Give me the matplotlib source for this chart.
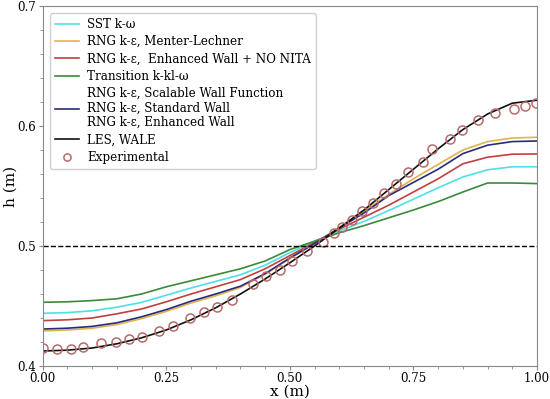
import numpy as np
import matplotlib
matplotlib.use("Agg")
import matplotlib.pyplot as plt
from matplotlib.ticker import MultipleLocator

plt.rcParams['font.family'] = ['DejaVu Serif']

# x positions of the simulated profiles
x_sim = [0.0, 0.05, 0.1, 0.15, 0.2, 0.25, 0.3, 0.35, 0.4, 0.45, 0.5,
         0.55, 0.6, 0.65, 0.7, 0.75, 0.8, 0.85, 0.9, 0.95, 1.0]

h_sst = [0.4439, 0.4445, 0.4460, 0.4490, 0.4530, 0.4590, 0.4650, 0.4705, 0.4760, 0.4840, 0.4945,
         0.5040, 0.5125, 0.5205, 0.5295, 0.5390, 0.5485, 0.5575, 0.5635, 0.5660, 0.5660]
h_menter = [0.4292, 0.4300, 0.4315, 0.4345, 0.4395, 0.4455, 0.4525, 0.4585, 0.4655, 0.4765, 0.4895,
            0.5020, 0.5155, 0.5290, 0.5430, 0.5560, 0.5680, 0.5800, 0.5870, 0.5900, 0.5906]
h_nonita = [0.4378, 0.4385, 0.4400, 0.4435, 0.4475, 0.4535, 0.4600, 0.4660, 0.4720, 0.4810, 0.4920,
            0.5030, 0.5140, 0.5240, 0.5340, 0.5450, 0.5560, 0.5685, 0.5740, 0.5765, 0.5767]
h_trans = [0.4531, 0.4535, 0.4545, 0.4560, 0.4600, 0.4660, 0.4710, 0.4760, 0.4810, 0.4875, 0.4970,
           0.5040, 0.5110, 0.5170, 0.5235, 0.5300, 0.5370, 0.5450, 0.5525, 0.5525, 0.5520]
h_wall = [0.4308, 0.4315, 0.4330, 0.4360, 0.4410, 0.4470, 0.4540, 0.4600, 0.4665, 0.4770, 0.4900,
          0.5020, 0.5150, 0.5275, 0.5420, 0.5530, 0.5640, 0.5770, 0.5840, 0.5870, 0.5875]
h_les = [0.4125, 0.4132, 0.4150, 0.4185, 0.4235, 0.4300, 0.4385, 0.4485, 0.4600, 0.4725, 0.4860,
         0.5000, 0.5150, 0.5300, 0.5470, 0.5640, 0.5810, 0.5970, 0.6100, 0.6190, 0.6215]

# experimental data
x_exp = [0.0, 0.028, 0.057, 0.082, 0.118, 0.148, 0.175, 0.200, 0.235, 0.263, 0.299,
         0.327, 0.353, 0.382, 0.425, 0.452, 0.480, 0.504, 0.534, 0.568, 0.590, 0.605,
         0.625, 0.645, 0.668, 0.690, 0.714, 0.740, 0.769, 0.788, 0.824, 0.848, 0.881,
         0.915, 0.954, 0.976, 0.998]
h_exp = [0.4148, 0.4142, 0.4142, 0.4158, 0.4192, 0.4203, 0.4225, 0.4244, 0.4292, 0.4333, 0.4398,
         0.4448, 0.4494, 0.4550, 0.4680, 0.4750, 0.4800, 0.4875, 0.4960, 0.5036, 0.5106, 0.5156,
         0.5220, 0.5290, 0.5360, 0.5440, 0.5514, 0.5620, 0.5700, 0.5808, 0.5890, 0.5970, 0.6050,
         0.6110, 0.6144, 0.6170, 0.6190]

fig = plt.figure(figsize=(5.5, 3.99), dpi=100)
ax = fig.add_axes([0.0776, 0.0827, 0.8988, 0.9023])

lw = 1.2
ax.plot(x_sim, h_sst, color='#4ee0e6', lw=lw, label='SST k-ω')
ax.plot(x_sim, h_menter, color='#e0b448', lw=lw, label='RNG k-ε, Menter-Lechner')
ax.plot(x_sim, h_nonita, color='#c0403e', lw=lw, label='RNG k-ε,  Enhanced Wall + NO NITA')
ax.plot(x_sim, h_trans, color='#3a8a3a', lw=lw, label='Transition k-kl-ω')
ax.plot(x_sim, h_wall, color='#2a2a80', lw=lw,
        label='RNG k-ε, Scalable Wall Function\nRNG k-ε, Standard Wall\nRNG k-ε, Enhanced Wall')
ax.plot(x_sim, h_les, color='#111111', lw=lw, label='LES, WALE')
ax.plot(x_exp, h_exp, linestyle='none', marker='o', markersize=6.5, markerfacecolor='none',
        markeredgecolor='#b86a6a', markeredgewidth=1.1, label='Experimental')
ax.axhline(0.5, color='black', linestyle='--', lw=1)

ax.set_xlim(0, 1)
ax.set_ylim(0.4, 0.7)
ax.xaxis.set_major_locator(MultipleLocator(0.25))
ax.xaxis.set_minor_locator(MultipleLocator(0.05))
ax.yaxis.set_major_locator(MultipleLocator(0.1))
ax.yaxis.set_minor_locator(MultipleLocator(0.02))
ax.xaxis.set_major_formatter(plt.FuncFormatter(lambda v, p: f'{v:.2f}'))
ax.yaxis.set_major_formatter(plt.FuncFormatter(lambda v, p: f'{v:.1f}'))
ax.tick_params(which='major', labelsize=8.5, color='#888888', length=3, pad=1.5)
ax.tick_params(which='minor', length=2, color='#888888')
for s in ax.spines.values():
    s.set_color('#888888')

ax.set_xlabel('x (m)', fontsize=11)
ax.set_ylabel('h (m)', fontsize=11)
ax.xaxis.set_label_coords(0.5, -0.053)
ax.yaxis.set_label_coords(-0.05, 0.5)

leg = ax.legend(loc='upper left', fontsize=8.6, labelspacing=0.36, handlelength=2.0,
                handletextpad=0.7, markerscale=0.8, borderaxespad=0.6,
                framealpha=1, edgecolor='#d0d0d0')
for t in leg.get_texts():
    t.set_linespacing(1.15)

fig.savefig('out.png', dpi=100)
